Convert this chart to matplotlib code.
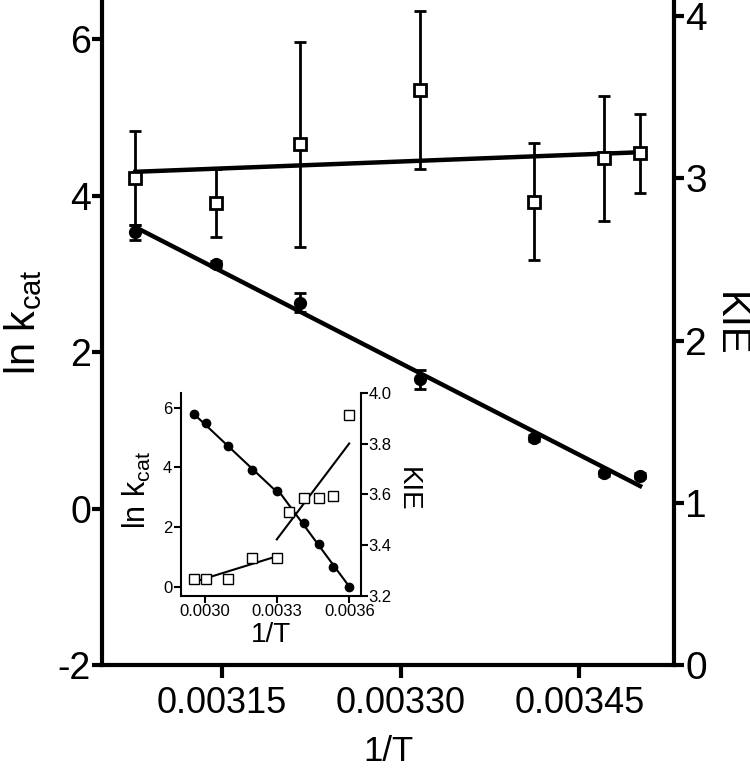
import matplotlib
matplotlib.use('Agg')
import matplotlib.pyplot as plt
import numpy as np

plt.rcParams['font.family'] = ['Liberation Sans', 'DejaVu Sans']
plt.rcParams['axes.unicode_minus'] = False

# ---- main panel data ----
inv_T = [0.003077, 0.003145, 0.003215, 0.003316, 0.003412, 0.003471, 0.003501]
ln_kcat = [3.53, 3.125, 2.63, 1.65, 0.90, 0.45, 0.42]
ln_kcat_err = [0.10, 0.04, 0.12, 0.12, 0.04, 0.03, 0.03]
kie = [3.00, 2.85, 3.21, 3.545, 2.856, 3.125, 3.154]
kie_err = [0.29, 0.21, 0.63, 0.49, 0.36, 0.385, 0.245]
main_xticks = [0.00315, 0.00330, 0.00345]
main_xticklabels = ['0.00315', '0.00330', '0.00345']
left_yticks = [-2, 0, 2, 4, 6]
right_yticks = [0, 1, 2, 3, 4]

# ---- inset data ----
inset_T_ln = [0.002954, 0.003005, 0.003096, 0.003195, 0.003299,
              0.003413, 0.003475, 0.003533, 0.003599]
inset_ln = [5.78, 5.47, 4.70, 3.91, 3.22, 2.15, 1.42, 0.65, 0.0]
inset_T_kie = [0.002954, 0.003005, 0.003096, 0.003195, 0.003299,
               0.003350, 0.003413, 0.003475, 0.003533, 0.003599]
inset_kie = [3.267, 3.267, 3.267, 3.351, 3.351,
             3.532, 3.587, 3.587, 3.595, 3.913]
inset_xticks = [0.0030, 0.0033, 0.0036]
inset_xticklabels = ['0.0030', '0.0033', '0.0036']
inset_lyticks = [0, 2, 4, 6]
inset_ryticks = [3.2, 3.4, 3.6, 3.8, 4.0]

W, H = 750, 770
fig = plt.figure(figsize=(W / 100, H / 100), dpi=100)
ax = fig.add_axes([102 / W, 105 / H, 572 / W, 665 / H])
ax2 = ax.twinx()

SP = 3.0
for a in (ax, ax2):
    a.spines['top'].set_visible(False)
    for s in a.spines.values():
        s.set_linewidth(SP)
ax2.spines['left'].set_visible(False)
ax2.spines['bottom'].set_visible(False)
ax.spines['right'].set_visible(False)

x = np.array(inv_T)
# circles + fit
ax.errorbar(inv_T, ln_kcat, yerr=ln_kcat_err, fmt='o', color='black', ms=8.5,
            elinewidth=2, capsize=4, capthick=2, zorder=3)
p = np.polyfit(x, ln_kcat, 1)
xx = np.array([x.min(), x.max()])
ax.plot(xx, np.polyval(p, xx), color='black', lw=3.2, zorder=2)

# squares + fit
ax2.errorbar(inv_T, kie, yerr=kie_err, fmt='s', color='black', mfc='white',
             mec='black', mew=2, ms=8, elinewidth=2, capsize=4, capthick=2, zorder=3)
p2 = np.polyfit(x, kie, 1)
ax2.plot(xx, np.polyval(p2, xx), color='black', lw=3.2, zorder=2)

ax.set_xlim(0.003049, 0.0035295)
ax.set_ylim(-2, 6.5)
ax2.set_ylim(0, 4.1)
ax.set_xticks(main_xticks)
ax.set_xticklabels(main_xticklabels)
ax.set_yticks(left_yticks)
ax2.set_yticks(right_yticks)
ax.tick_params(axis='x', direction='out', length=9, width=SP, labelsize=26, pad=6)
ax.tick_params(axis='y', direction='out', length=7, width=SP, labelsize=27, pad=1)
ax2.tick_params(axis='y', direction='out', length=7, width=SP, labelsize=28, pad=1)
ax.set_xlabel('1/T', fontsize=25)
ax.xaxis.set_label_coords(0.5, -(735 - 665) / 665)
ax.set_ylabel(r'ln k$_{\mathregular{cat}}$', fontsize=30)
ax.yaxis.set_label_coords((44 - 102) / 572, (665 - 322) / 665)
ax2.set_ylabel('KIE', fontsize=29, rotation=270)
ax2.yaxis.set_label_coords((749 - 102) / 572, (665 - 324) / 665)

# ---- inset ----
IL, IR, IT, IB = 180.5, 361.0, 392.7, 596.0
axi = fig.add_axes([IL / W, (H - IB) / H, (IR - IL) / W, (IB - IT) / H])
axi.set_facecolor('none')
axi2 = axi.twinx()
IS = 1.5
for a in (axi, axi2):
    a.spines['top'].set_visible(False)
    for s in a.spines.values():
        s.set_linewidth(IS)
axi.spines['right'].set_visible(False)
axi2.spines['left'].set_visible(False)
axi2.spines['bottom'].set_visible(False)

xi = np.array(inset_T_ln)
yi = np.array(inset_ln)
axi.plot(inset_T_ln, inset_ln, 'o', color='black', ms=6, zorder=3)
for sl in (slice(0, 5), slice(4, 9)):
    pp = np.polyfit(xi[sl], yi[sl], 1)
    xs = np.array([xi[sl].min(), xi[sl].max()])
    axi.plot(xs, np.polyval(pp, xs), color='black', lw=1.5, zorder=2)

xk = np.array(inset_T_kie)
yk = np.array(inset_kie)
axi2.plot(inset_T_kie, inset_kie, 's', color='black', mfc='white', mec='black',
          mew=1.0, ms=7, zorder=3)
for sl in (slice(0, 5), slice(5, 10)):
    pp = np.polyfit(xk[sl], yk[sl], 1)
    lo = xk[sl].min() if sl.start == 0 else xk[4]
    xs = np.array([lo, xk[sl].max()])
    axi2.plot(xs, np.polyval(pp, xs), color='black', lw=1.5, zorder=2)

axi.set_xlim(0.0029, 0.003648)
axi.set_ylim(-0.31, 6.5)
axi2.set_ylim(3.2, 4.0)
axi.set_xticks(inset_xticks)
axi.set_xticklabels(inset_xticklabels)
axi.set_yticks(inset_lyticks)
axi2.set_yticks(inset_ryticks)
axi2.set_yticklabels([f'{v:.1f}' for v in inset_ryticks])
axi.tick_params(axis='both', direction='out', length=5, width=IS, labelsize=12, pad=1)
axi2.tick_params(axis='y', direction='out', length=5, width=IS, labelsize=12, pad=0.5)
axi.set_xlabel('1/T', fontsize=20, labelpad=2)
axi.set_ylabel(r'ln k$_{\mathregular{cat}}$', fontsize=22)
axi.yaxis.set_label_coords((153 - IL) / (IR - IL), (IB - 490) / (IB - IT))
axi2.set_ylabel('KIE', fontsize=20, rotation=270)
axi2.yaxis.set_label_coords((421 - IL) / (IR - IL), (IB - 489.5) / (IB - IT))

fig.savefig('out.png', dpi=100)
